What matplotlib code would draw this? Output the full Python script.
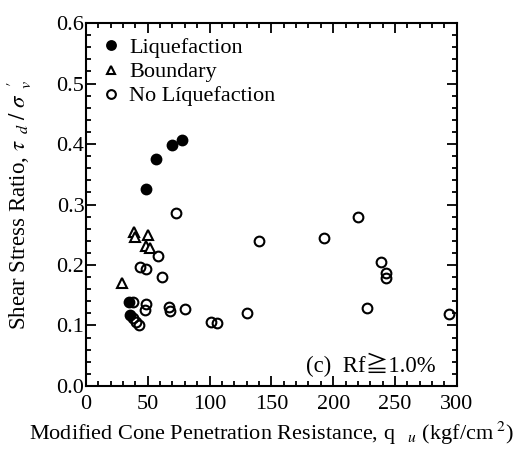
import matplotlib
matplotlib.use('Agg')
import matplotlib.pyplot as plt
import matplotlib.ticker as mticker

plt.rcParams['font.family'] = ['Liberation Serif', 'Noto Sans CJK JP', 'DejaVu Serif']
plt.rcParams['mathtext.fontset'] = 'stix'

# Liquefaction (filled circles)
liq_q = [48.6, 56.7, 69.4, 77.5, 35.1, 35.6]
liq_r = [0.325, 0.375, 0.398, 0.407, 0.139, 0.118]

# Boundary (open triangles)
bnd_q = [39.0, 39.5, 50.0, 48.6, 52.0, 28.9]
bnd_r = [0.255, 0.246, 0.250, 0.232, 0.228, 0.171]

# No liquefaction (open circles)
noliq_q = [72.6, 58.6, 43.7, 48.3, 61.5, 38.3, 48.3, 47.8, 38.3, 40.5, 43.2,
           67.5, 68.0, 80.3, 101.0, 105.8, 130.6, 140.3, 192.7, 219.7, 238.9,
           242.4, 242.4, 227.3, 294.0]
noliq_r = [0.286, 0.215, 0.196, 0.193, 0.180, 0.138, 0.136, 0.125, 0.112, 0.106, 0.101,
           0.130, 0.124, 0.128, 0.106, 0.104, 0.120, 0.240, 0.245, 0.279, 0.205,
           0.187, 0.178, 0.129, 0.119]

fig = plt.figure(figsize=(5.3, 4.53), dpi=100)
ax = fig.add_axes([0.162, 0.148, 0.700, 0.801])

ms = 7
ax.plot(liq_q, liq_r, 'o', ms=ms, color='black', mew=1.5, ls='none', label='Liquefaction')
ax.plot(bnd_q, bnd_r, '^', ms=ms, mfc='white', mec='black', mew=1.5, ls='none', label='Boundary')
ax.plot(noliq_q, noliq_r, 'o', ms=ms, mfc='none', mec='black', mew=1.5, ls='none', label='No Líquefaction')

ax.set_xlim(0, 300)
ax.set_ylim(0, 0.6)
ax.xaxis.set_major_locator(mticker.MultipleLocator(50))
ax.xaxis.set_minor_locator(mticker.MultipleLocator(10))
ax.yaxis.set_major_locator(mticker.MultipleLocator(0.1))
ax.yaxis.set_minor_locator(mticker.MultipleLocator(0.02))
ax.yaxis.set_major_formatter(mticker.FormatStrFormatter('%.1f'))
ax.tick_params(which='both', direction='in', top=True, right=True, labelsize=16, width=1.3)
ax.tick_params(axis='y', pad=1)
ax.tick_params(axis='x', pad=6.5)
ax.tick_params(which='major', length=7)
ax.tick_params(which='minor', length=3.5)
for s in ax.spines.values():
    s.set_linewidth(1.5)

ax.set_xlabel(r"Modified Cone Penetration Resistance, q $_{\ \ u}$ (kgf/cm$^{\ 2}$)", fontsize=16, labelpad=4)
ax.set_ylabel(r"Shear Stress Ratio, $\tau_{\ \ d}\ /\ \sigma^{\ \ \prime}_{\ \ v}$", fontsize=16.5, labelpad=16)

leg = ax.legend(loc='upper left', bbox_to_anchor=(0.051, 0.96), frameon=False, fontsize=16,
                handlelength=0.6, handletextpad=0.5, borderaxespad=0, borderpad=0,
                labelspacing=0.16, markerscale=0.9)

ax.text(0.943, 0.025, '(c)  Rf≧1.0%', transform=ax.transAxes, ha='right', va='bottom', fontsize=16.4)

fig.savefig('out.png', dpi=100)
